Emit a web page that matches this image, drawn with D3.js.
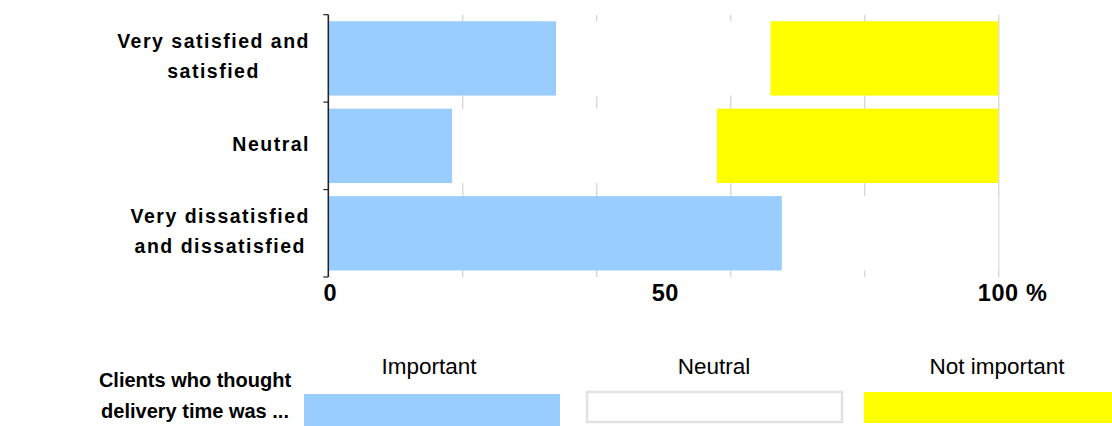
<!DOCTYPE html>
<html>
<head>
<meta charset="utf-8">
<script src="https://cdn.jsdelivr.net/npm/d3@7"></script>
<style>
  body { margin: 0; background: #fff; }
  svg { display: block; font-family: "Liberation Sans", Arial, sans-serif; }
</style>
</head>
<body>
<svg id="chart" width="1112" height="426"></svg>
<script>
// Satisfaction groups (top to bottom) and how each label wraps
const categories = ["Very satisfied and satisfied", "Neutral", "Very dissatisfied and dissatisfied"];
const categoryLines = [["Very satisfied and", "satisfied"], ["Neutral"], ["Very dissatisfied", "and dissatisfied"]];

// Share of clients (%) by how important they found delivery time
const important    = [34, 18.5, 67.7];
const neutral      = [32, 39.5, 32.3];
const notImportant = [34, 42, 0];

const seriesKeys   = ["important", "neutral", "notImportant"];
const seriesLabels = ["Important", "Neutral", "Not important"];
const seriesColors = ["#99ccff", "#ffffff", "#ffff00"];

const gridTicks  = [0, 20, 40, 60, 80, 100];
const axisTicks  = [0, 50, 100];
const axisLabels = ["0", "50", "100 %"];

const legendTitle = ["Clients who thought", "delivery time was ..."];

const rows = categories.map((c, i) => ({
  category: c,
  important: important[i],
  neutral: neutral[i],
  notImportant: notImportant[i]
}));

const svg = d3.select("#chart");

const plot = { left: 328.3, right: 998.3, top: 14.7, bottom: 277 };

const x = d3.scaleLinear().domain([0, 100]).range([plot.left, plot.right]);
const y = d3.scaleBand().domain(categories)
  .range([plot.top, plot.bottom])
  .paddingInner(0.15).paddingOuter(0.075);

// Vertical gridlines behind the bars
const grid = svg.append("g")
  .attr("transform", `translate(0,${plot.bottom})`)
  .call(d3.axisBottom(x).tickValues(gridTicks).tickSize(-(plot.bottom - plot.top)).tickFormat(""));
grid.select(".domain").remove();
grid.selectAll(".tick line").attr("stroke", "#c8c8c8").attr("stroke-width", 1);

// Stacked bars
const stacked = d3.stack().keys(seriesKeys)(rows);
svg.append("g").selectAll("g")
  .data(stacked)
  .join("g")
  .attr("fill", (d, i) => seriesColors[i])
  .selectAll("rect")
  .data(d => d)
  .join("rect")
  .attr("x", d => x(d[0]))
  .attr("y", d => y(d.data.category))
  .attr("width", d => x(d[1]) - x(d[0]))
  .attr("height", y.bandwidth());

// Category axis: line with ticks on the band boundaries
const gap = (y.step() - y.bandwidth()) / 2;
const boundaries = categories.map(c => y(c) - gap).concat([y(categories[categories.length - 1]) + y.bandwidth() + gap]);
const yAxis = svg.append("g");
yAxis.append("line")
  .attr("x1", plot.left).attr("x2", plot.left)
  .attr("y1", boundaries[0]).attr("y2", boundaries[boundaries.length - 1])
  .attr("stroke", "#222").attr("stroke-width", 1.5);
yAxis.selectAll("line.tk")
  .data(boundaries)
  .join("line")
  .attr("class", "tk")
  .attr("x1", plot.left - 5).attr("x2", plot.left)
  .attr("y1", d => d).attr("y2", d => d)
  .attr("stroke", "#222").attr("stroke-width", 1.2);

// Category labels, each block right-aligned, lines centred within it
const labelRight = 310;
const lineGap = 30;
categories.forEach((c, i) => {
  const lines = categoryLines[i];
  const g = svg.append("g");
  const texts = lines.map((ln, j) => g.append("text")
    .text(ln)
    .attr("font-size", 19.5)
    .attr("font-weight", "bold")
    .attr("letter-spacing", 1.5)
    .attr("fill", "#000")
    .attr("dominant-baseline", "central")
    .attr("text-anchor", "middle")
    .attr("y", y(c) + y.bandwidth() / 2 - 2 + (j - (lines.length - 1) / 2) * lineGap));
  const maxW = d3.max(texts, t => t.node().getComputedTextLength());
  texts.forEach(t => t.attr("x", labelRight - maxW / 2));
});

// Value axis labels
const tickFont = 23.5;
axisTicks.forEach((v, i) => {
  const label = axisLabels[i];
  const t = svg.append("text")
    .attr("font-size", tickFont)
    .attr("font-weight", "bold")
    .attr("letter-spacing", 0.6)
    .attr("fill", "#000")
    .attr("y", 301)
    .text(label);
  const num = String(v);
  if (label === num) {
    t.attr("text-anchor", "middle").attr("x", x(v) + 2);
  } else {
    // keep the number itself centred on its tick, unit trailing after it
    const probe = svg.append("text").attr("font-size", tickFont).attr("font-weight", "bold")
      .attr("letter-spacing", 0.6).text(num);
    const w = probe.node().getComputedTextLength();
    probe.remove();
    t.attr("text-anchor", "start").attr("x", x(v) - w / 2);
  }
});

// Legend title
legendTitle.forEach((ln, j) => {
  svg.append("text")
    .text(ln)
    .attr("x", 195)
    .attr("y", 387 + j * 31)
    .attr("text-anchor", "middle")
    .attr("font-size", 20)
    .attr("font-weight", "bold")
    .attr("fill", "#000");
});

// Legend swatches and labels
const legendItems = [
  { x0: 304, x1: 560, y0: 394, y1: 426, tx: 429 },
  { x0: 587, x1: 842, y0: 392, y1: 422, tx: 714 },
  { x0: 864, x1: 1112, y0: 392, y1: 423, tx: 997 }
];
legendItems.forEach((p, i) => {
  const r = svg.append("rect")
    .attr("x", p.x0).attr("y", p.y0)
    .attr("width", p.x1 - p.x0).attr("height", p.y1 - p.y0)
    .attr("fill", seriesColors[i]);
  if (seriesColors[i] === "#ffffff") r.attr("stroke", "#e2e2e2").attr("stroke-width", 2.5);
  svg.append("text")
    .text(seriesLabels[i])
    .attr("x", p.tx)
    .attr("y", 374)
    .attr("text-anchor", "middle")
    .attr("font-size", 22.5)
    .attr("fill", "#000");
});
</script>
</body>
</html>
